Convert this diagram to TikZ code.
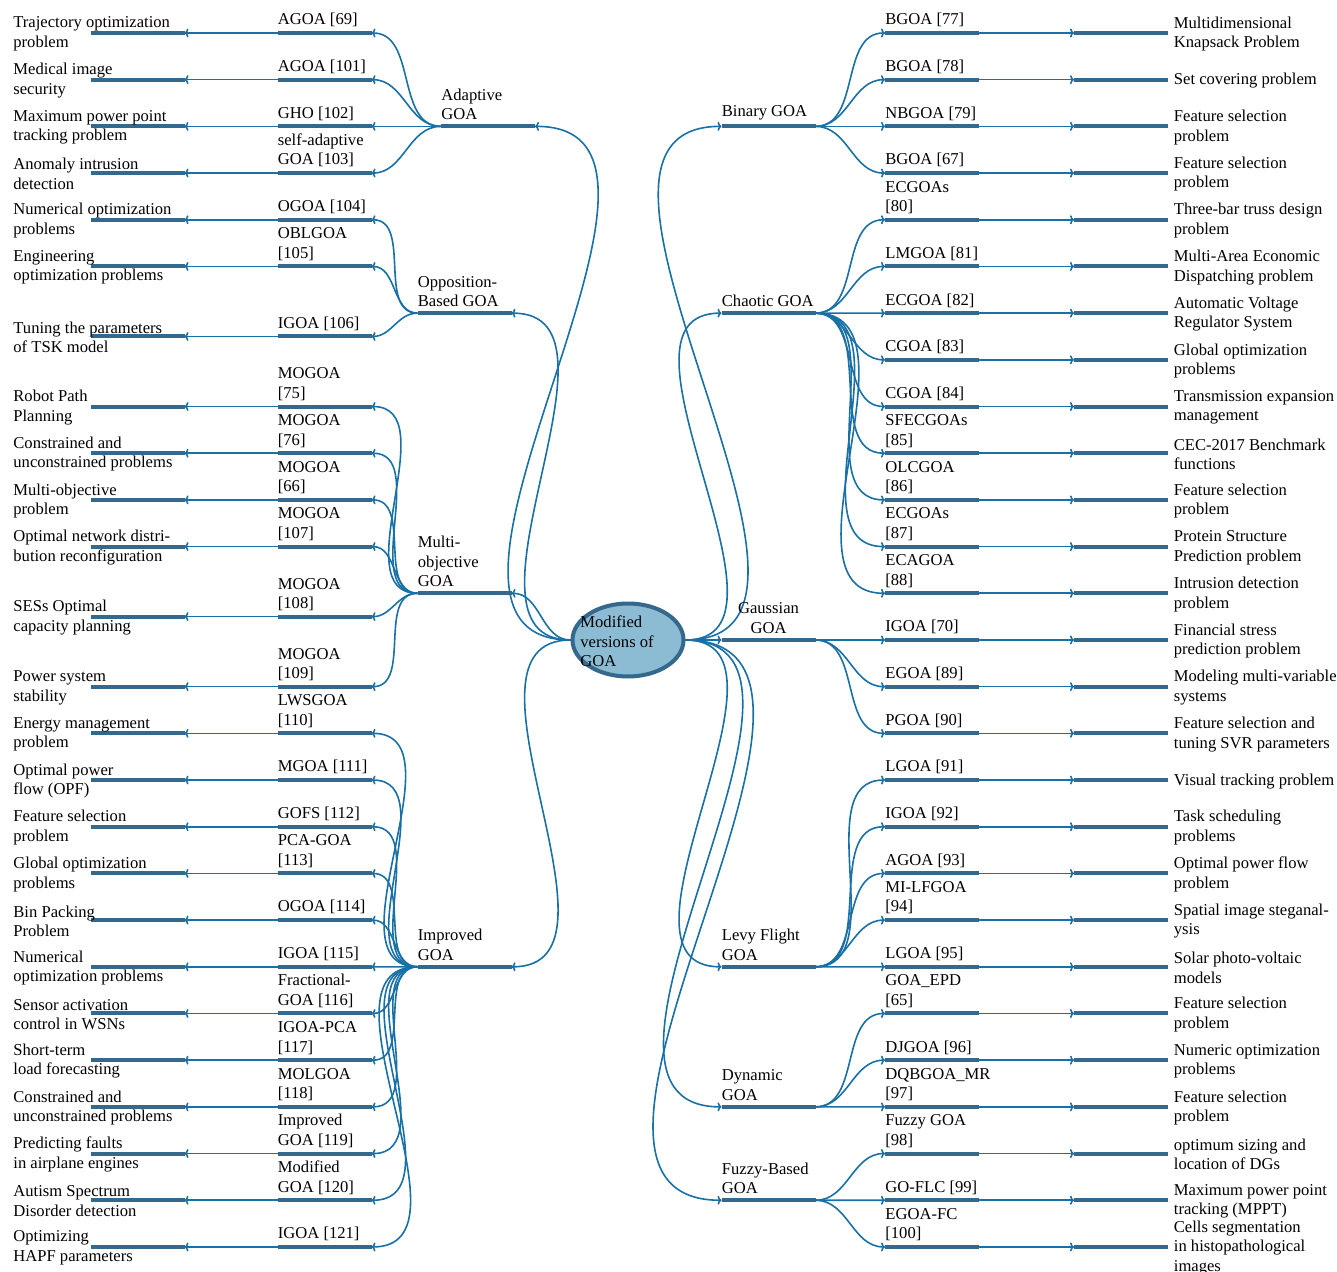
\documentclass[tikz,border=0pt]{standalone}
\usepackage{fontspec}
\setmainfont{Liberation Serif}
\usetikzlibrary{shapes.geometric,arrows.meta}
\pgfdeclarelayer{bg}
\pgfsetlayers{bg,main}
\definecolor{barc}{RGB}{52,104,140}
\definecolor{edgec}{RGB}{24,112,166}
\definecolor{ellc}{RGB}{140,188,212}
\tikzset{
  bar/.style={rectangle, inner sep=0pt, outer sep=0pt, minimum width=47pt, minimum height=2pt, fill=barc},
  edge/.style={draw=edgec, line width=0.8pt, -{To[length=2pt,width=4.5pt]}},
  txt/.style={font=\fontsize{8.3}{9.75}\selectfont, align=left, inner sep=0pt},
}
\begin{document}
\begin{tikzpicture}[x=0.5pt,y=-0.5pt]
\useasboundingbox (0,0) rectangle (1337,1272);
% root
\node[ellipse, draw=barc, fill=ellc, line width=2pt, inner sep=0pt, minimum width=55.5pt, minimum height=36.5pt] (root) at (628,640) {};
\node[txt, anchor=west] (roottext) at (580,641.5) {Modified\\versions of\\GOA};
% left categories
\node[bar] (ada) at (488,126.38) {};
\node[bar] (opp) at (464.5,313.14) {};
\node[bar] (mo) at (464.5,593.28) {};
\node[bar] (imp) at (464.5,966.8) {};
\node[txt, anchor=south west] (adat) at (441,120.38) {Adaptive\\GOA};
\node[txt, anchor=south west] (oppt) at (417.5,307.14) {Opposition-\\Based GOA};
\node[txt, anchor=south west] (mot) at (417.5,587.28) {Multi-\\objective\\GOA};
\node[txt, anchor=south west] (impt) at (417.5,960.8) {Improved\\GOA};
% right categories
\node[bar] (bin) at (768.5,126.38) {};
\node[bar] (cha) at (768.5,313.14) {};
\node[bar] (gau) at (768.5,639.97) {};
\node[bar] (levy) at (768.5,966.8) {};
\node[bar] (dyn) at (768.5,1106.87) {};
\node[bar] (fuz) at (768.5,1200.25) {};
\node[txt, anchor=south west] (bint) at (721.5,120.38) {Binary GOA};
\node[txt, anchor=south west] (chat) at (721.5,307.14) {Chaotic GOA};
\node[txt, anchor=south, align=center] (gaut) at (768.5,633.97) {Gaussian\\GOA};
\node[txt, anchor=south west] (levyt) at (721.5,960.8) {Levy Flight\\GOA};
\node[txt, anchor=south west] (dynt) at (721.5,1100.87) {Dynamic\\GOA};
\node[txt, anchor=south west] (fuzt) at (721.5,1194.25) {Fuzzy-Based\\GOA};
\begin{pgfonlayer}{bg}
\foreach \cat in {ada,opp,mo,imp}{\draw[edge] (root.west) to[out=180,in=0] (\cat.east);}
\foreach \cat in {bin,cha,gau,levy,dyn,fuz}{\draw[edge] (root.east) to[out=0,in=180] (\cat.west);}
\end{pgfonlayer}
% left rows
\foreach \k/\mt/\lf/\cat [count=\i] in {
0/{AGOA [69]}/{Trajectory optimization\\problem}/ada,
1/{AGOA [101]}/{Medical image\\security}/ada,
2/{GHO [102]}/{Maximum power point\\tracking problem}/ada,
3/{self-adaptive\\GOA [103]}/{Anomaly intrusion\\detection}/ada,
4/{OGOA [104]}/{Numerical optimization\\problems}/opp,
5/{OBLGOA\\{}[105]}/{Engineering\\optimization problems}/opp,
6.5/{IGOA [106]}/{Tuning the parameters\\of TSK model}/opp,
8/{MOGOA\\{}[75]}/{Robot Path\\Planning}/mo,
9/{MOGOA\\{}[76]}/{Constrained and\\unconstrained problems}/mo,
10/{MOGOA\\{}[66]}/{Multi-objective\\problem}/mo,
11/{MOGOA\\{}[107]}/{Optimal network distri-\\bution reconfiguration}/mo,
12.5/{MOGOA\\{}[108]}/{SESs Optimal\\capacity planning}/mo,
14/{MOGOA\\{}[109]}/{Power system\\stability}/mo,
15/{LWSGOA\\{}[110]}/{Energy management\\problem}/imp,
16/{MGOA [111]}/{Optimal power\\flow (OPF)}/imp,
17/{GOFS [112]}/{Feature selection\\problem}/imp,
18/{PCA-GOA\\{}[113]}/{Global optimization\\problems}/imp,
19/{OGOA [114]}/{Bin Packing\\Problem}/imp,
20/{IGOA [115]}/{Numerical\\optimization problems}/imp,
21/{Fractional-\\GOA [116]}/{Sensor activation\\control in WSNs}/imp,
22/{IGOA-PCA\\{}[117]}/{Short-term\\load forecasting}/imp,
23/{MOLGOA\\{}[118]}/{Constrained and\\unconstrained problems}/imp,
24/{Improved\\GOA [119]}/{Predicting faults\\in airplane engines}/imp,
25/{Modified\\GOA [120]}/{Autism Spectrum\\Disorder detection}/imp,
26/{IGOA [121]}/{Optimizing\\HAPF parameters}/imp}{
  \pgfmathsetmacro\yy{33+46.69*\k}
  \node[bar] (lm\i) at (324.5,\yy) {};
  \node[bar] (ll\i) at (137.5,\yy) {};
  \node[txt, anchor=south west] (lmt\i) at (277.5,\yy-5.5) {\mt};
  \node[txt, anchor=west] (llt\i) at (13,\yy+1) {\lf};
  \begin{pgfonlayer}{bg}
  \draw[edge] (lm\i.west) -- (ll\i.east);
  \draw[edge] (\cat.west) to[out=180,in=0] (lm\i.east);
  \end{pgfonlayer}
}
% right rows
\foreach \k/\mt/\lf/\cat [count=\i] in {
0/{BGOA [77]}/{Multidimensional\\Knapsack Problem}/bin,
1/{BGOA [78]}/{Set covering problem}/bin,
2/{NBGOA [79]}/{Feature selection\\problem}/bin,
3/{BGOA [67]}/{Feature selection\\problem}/bin,
4/{ECGOAs\\{}[80]}/{Three-bar truss design\\problem}/cha,
5/{LMGOA [81]}/{Multi-Area Economic\\Dispatching problem}/cha,
6/{ECGOA [82]}/{Automatic Voltage\\Regulator System}/cha,
7/{CGOA [83]}/{Global optimization\\problems}/cha,
8/{CGOA [84]}/{Transmission expansion\\management}/cha,
9/{SFECGOAs\\{}[85]}/{CEC-2017 Benchmark\\functions}/cha,
10/{OLCGOA\\{}[86]}/{Feature selection\\problem}/cha,
11/{ECGOAs\\{}[87]}/{Protein Structure\\Prediction problem}/cha,
12/{ECAGOA\\{}[88]}/{Intrusion detection\\problem}/cha,
13/{IGOA [70]}/{Financial stress\\prediction problem}/gau,
14/{EGOA [89]}/{Modeling multi-variable\\systems}/gau,
15/{PGOA [90]}/{Feature selection and\\tuning SVR parameters}/gau,
16/{LGOA [91]}/{Visual tracking problem}/levy,
17/{IGOA [92]}/{Task scheduling\\problems}/levy,
18/{AGOA [93]}/{Optimal power flow\\problem}/levy,
19/{MI-LFGOA\\{}[94]}/{Spatial image steganal-\\ysis}/levy,
20/{LGOA [95]}/{Solar photo-voltaic\\models}/levy,
21/{GOA\_EPD\\{}[65]}/{Feature selection\\problem}/dyn,
22/{DJGOA [96]}/{Numeric optimization\\problems}/dyn,
23/{DQBGOA\_MR\\{}[97]}/{Feature selection\\problem}/dyn,
24/{Fuzzy GOA\\{}[98]}/{optimum sizing and\\location of DGs}/fuz,
25/{GO-FLC [99]}/{Maximum power point\\tracking (MPPT)}/fuz,
26/{EGOA-FC\\{}[100]}/{Cells segmentation\\in histopathological\\images}/fuz}{
  \pgfmathsetmacro\yy{33+46.69*\k}
  \node[bar] (rm\i) at (932,\yy) {};
  \node[bar] (rl\i) at (1121,\yy) {};
  \node[txt, anchor=south west] (rmt\i) at (885,\yy-5.5) {\mt};
  \node[txt, anchor=west] (rlt\i) at (1173.5,\yy+1) {\lf};
  \begin{pgfonlayer}{bg}
  \draw[edge] (rm\i.east) -- (rl\i.west);
  \draw[edge] (\cat.east) to[out=0,in=180] (rm\i.west);
  \end{pgfonlayer}
}
\end{tikzpicture}
\end{document}
